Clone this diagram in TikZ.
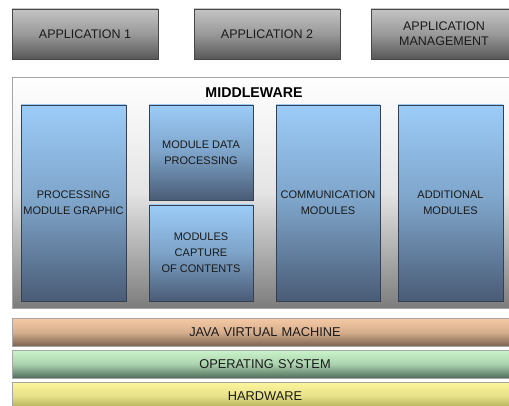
\documentclass[tikz,border=0pt]{standalone}
\usepackage{fontspec}
\setmainfont{Liberation Sans}
\definecolor{txt}{HTML}{1A1A1A}
\definecolor{apptop}{HTML}{C4C4C4}
\definecolor{appbot}{HTML}{585858}
\definecolor{modtop}{HTML}{9CCCF8}
\definecolor{modmid}{HTML}{7DA3C8}
\definecolor{modbot}{HTML}{4A5B76}
\definecolor{mwmid}{HTML}{E4E4E4}
\definecolor{mwbot}{HTML}{7C7C7C}
\definecolor{jvmtop}{HTML}{F6C9A4}
\definecolor{jvmbot}{HTML}{7C6250}
\definecolor{ostop}{HTML}{CAF4CA}
\definecolor{osbot}{HTML}{4E6E5C}
\definecolor{hwtop}{HTML}{FCF59C}
\definecolor{hwbot}{HTML}{A6A34E}
\begin{document}
\begin{tikzpicture}[x=1pt,y=-1pt,
  base/.style={rectangle, anchor=north west, inner sep=0pt, outer sep=0pt, align=center, text=txt},
  appbox/.style={base, draw=gray!55!black, top color=apptop, bottom color=appbot, middle color=apptop!60!appbot,
     font=\fontsize{12.5}{15}\selectfont, minimum height=50pt},
  modbox/.style={base, draw=modbot!70!black, top color=modtop, bottom color=modbot, middle color=modmid,
     font=\fontsize{11}{16}\selectfont, minimum width=105pt},
  layer/.style={base, draw=gray!70, font=\fontsize{12.8}{15}\selectfont, minimum width=500pt, minimum height=28pt, text width=497pt}
]
\clip (0,0) rectangle (509,406);
\fill[white] (0,0) rectangle (509,406);
% applications
\node[appbox, minimum width=146pt] (app1) at (12,9) {APPLICATION 1};
\node[appbox, minimum width=146pt] (app2) at (194,9) {APPLICATION 2};
\node[appbox, minimum width=146pt] (appm) at (371,9) {APPLICATION\\MANAGEMENT};
% middleware container
\node[base, draw=gray!70, top color=white, bottom color=mwbot, middle color=mwmid,
      minimum width=505pt, minimum height=231pt] (mw) at (12,77) {};
\node[font=\bfseries\fontsize{14.2}{16}\selectfont, text=black, inner sep=0pt] (mwlabel) at (254,93) {MIDDLEWARE};
% modules
\node[modbox, minimum height=196pt] (pmg) at (21,105) {PROCESSING\\MODULE GRAPHIC};
\node[modbox, minimum width=104pt, minimum height=95pt] (mdp) at (149,105) {MODULE DATA\\PROCESSING};
\node[modbox, minimum width=104pt, minimum height=96pt] (mcc) at (149,205) {MODULES\\CAPTURE\\OF CONTENTS};
\node[modbox, minimum width=104pt, minimum height=196pt] (cm) at (276,105) {COMMUNICATION\\MODULES};
\node[modbox, minimum width=105pt, minimum height=196pt] (am) at (398,105) {ADDITIONAL\\MODULES};
% layers
\node[layer, top color=jvmtop, bottom color=jvmbot, middle color=jvmtop!75!jvmbot] (jvm) at (12,318) {\hspace*{6pt}JAVA VIRTUAL MACHINE};
\node[layer, top color=ostop, bottom color=osbot, middle color=ostop!75!osbot] (os) at (12,350) {\hspace*{6pt}OPERATING SYSTEM};
\node[layer, top color=hwtop, bottom color=hwbot, middle color=hwtop!75!hwbot] (hw) at (12,382) {\hspace*{6pt}HARDWARE};
\end{tikzpicture}
\end{document}
